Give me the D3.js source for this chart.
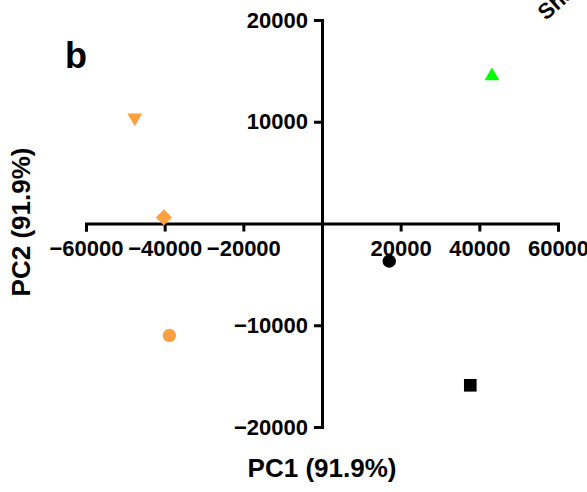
<!DOCTYPE html>
<html>
<head>
<meta charset="utf-8">
<script src="https://cdn.jsdelivr.net/npm/d3@7/dist/d3.min.js"></script>
<style>
  html, body { margin: 0; padding: 0; background: #fff; }
  svg { display: block; }
  text { font-family: "Liberation Sans", Arial, Helvetica, sans-serif; font-weight: bold; fill: #000; }
</style>
</head>
<body>
<svg id="chart" width="587" height="492"></svg>
<script>
// PCA scores for each sample
const sampleIds = ["s1", "s2", "s3", "s4", "s5", "s6"];
const pc1Scores = [43200, -47600, -40200, -38800, 17100, 37700];
const pc2Scores = [14500, 10400, 600, -11000, -3700, -15900];

// Axis ticks
const xTicks = [-60000, -40000, -20000, 20000, 40000, 60000];
const yTicks = [-20000, -10000, 10000, 20000];

const xTitle = "PC1 (91.9%)";
const yTitle = "PC2 (91.9%)";
const panelLabel = "b";
const cornerLabel = "Shared";

// Marker style per sample
const markerStyle = {
  s1: { shape: "triangle", color: "#00ff00", size: 95 },
  s2: { shape: "triangleDown", color: "#ffa040", size: 95 },
  s3: { shape: "diamond", color: "#ffa040", size: 130 },
  s4: { shape: "circle", color: "#ffa040", size: 140 },
  s5: { shape: "circle", color: "#000000", size: 140 },
  s6: { shape: "square", color: "#000000", size: 160 }
};

const svg = d3.select("#chart");

const x = d3.scaleLinear().domain([-60000, 60000]).range([86, 558]);
const y = d3.scaleLinear().domain([-20000, 20000]).range([427, 20]);

const fmt = d3.format("d");

// Horizontal axis crossing at PC2 = 0
const gx = svg.append("g")
  .attr("transform", `translate(0,${y(0)})`)
  .call(d3.axisBottom(x).tickValues(xTicks).tickFormat(fmt)
    .tickSize(8).tickSizeOuter(8).tickPadding(9));

// Vertical axis crossing at PC1 = 0
const gy = svg.append("g")
  .attr("transform", `translate(${x(0)},0)`)
  .call(d3.axisLeft(y).tickValues(yTicks).tickFormat(fmt)
    .tickSize(8).tickSizeOuter(8).tickPadding(6));

[gx, gy].forEach(g => {
  g.select(".domain").attr("stroke", "#000").attr("stroke-width", 3);
  g.selectAll(".tick line").attr("stroke", "#000").attr("stroke-width", 3);
  g.selectAll(".tick text")
    .attr("fill", "#000")
    .style("font-size", "22px")
    .style("font-family", "\"Liberation Sans\", Arial, sans-serif")
    .style("font-weight", "bold");
});

// Markers
const symbolFor = {
  triangle: d3.symbolTriangle,
  triangleDown: d3.symbolTriangle,
  diamond: d3.symbolSquare,
  circle: d3.symbolCircle,
  square: d3.symbolSquare
};
const rotationFor = { triangleDown: 180, diamond: 45 };

svg.append("g").selectAll("path")
  .data(sampleIds)
  .join("path")
  .attr("d", id => d3.symbol(symbolFor[markerStyle[id].shape], markerStyle[id].size)())
  .attr("fill", id => markerStyle[id].color)
  .attr("transform", (id, i) =>
    `translate(${x(pc1Scores[i])},${y(pc2Scores[i])}) rotate(${rotationFor[markerStyle[id].shape] || 0})`);

// Titles
svg.append("text")
  .attr("x", x(0)).attr("y", 477)
  .attr("text-anchor", "middle")
  .style("font-size", "26px")
  .text(xTitle);

svg.append("text")
  .attr("transform", "translate(30,222) rotate(-90)")
  .attr("text-anchor", "middle")
  .style("font-size", "26px")
  .text(yTitle);

svg.append("text")
  .attr("x", 65).attr("y", 68)
  .style("font-size", "36px")
  .text(panelLabel);

svg.append("text")
  .attr("transform", "translate(546,21) rotate(-42)")
  .style("font-size", "22px")
  .text(cornerLabel);
</script>
</body>
</html>
